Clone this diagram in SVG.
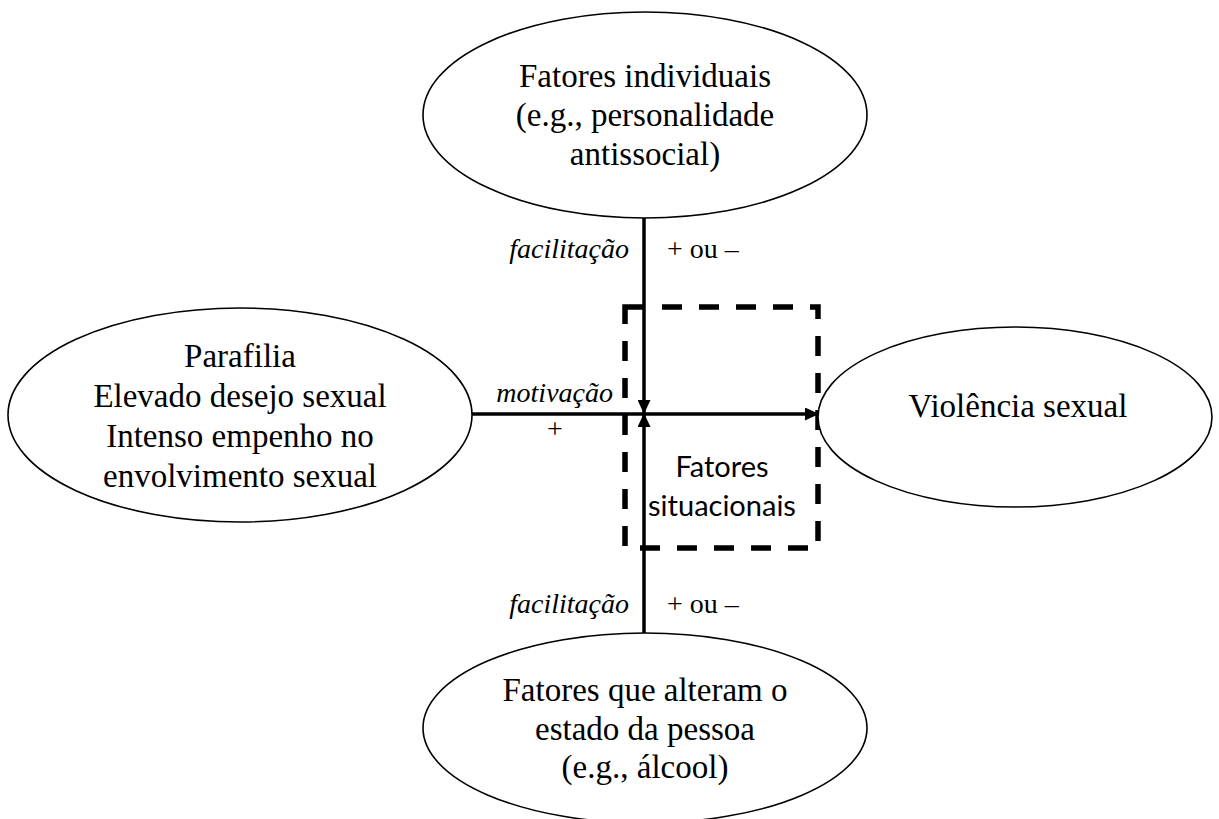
<svg xmlns="http://www.w3.org/2000/svg" width="1219" height="819" viewBox="0 0 1219 819">
<style>
.node ellipse{fill:#fff;stroke:#000;stroke-width:1.6}
.t{font-family:"Liberation Serif","Times New Roman",serif;font-size:33px;fill:#000;text-anchor:middle}
.lbl{font-family:"Liberation Serif","Times New Roman",serif;font-size:28px;fill:#000}
.it{font-style:italic}
.sans{font-family:Lato,"Open Sans","Liberation Sans",sans-serif;font-size:29px;fill:#000;text-anchor:middle}
.conn{stroke:#000;stroke-width:3.5;fill:none}
</style>
<defs>
<marker id="ah" markerWidth="14" markerHeight="13" refX="13" refY="6.5" orient="auto" markerUnits="userSpaceOnUse">
<path d="M0,0 L14,6.5 L0,13 z" fill="#000"/>
</marker>
</defs>
<rect width="1219" height="819" fill="#fff"/>
<g id="situacional">
<rect x="625" y="307" width="193" height="241" fill="none" stroke="#000" stroke-width="5.5" stroke-dasharray="20,17"/>
<text class="sans" x="722" y="477">Fatores</text>
<text class="sans" x="722" y="516">situacionais</text>
</g>
<g id="connectors">
<line class="conn" x1="644" y1="218" x2="644" y2="413" marker-end="url(#ah)"/>
<line class="conn" x1="644" y1="634" x2="644" y2="414" marker-end="url(#ah)"/>
<line class="conn" x1="472" y1="414" x2="818" y2="414" marker-end="url(#ah)"/>
<text class="lbl it" x="629" y="258" text-anchor="end">facilitação</text>
<text class="lbl" x="667" y="258">+ ou –</text>
<text class="lbl it" x="613" y="402" text-anchor="end">motivação</text>
<text class="lbl" x="555" y="438" text-anchor="middle">+</text>
<text class="lbl it" x="629" y="613" text-anchor="end">facilitação</text>
<text class="lbl" x="667" y="613">+ ou –</text>
</g>
<g id="individuais" class="node">
<ellipse cx="645" cy="115" rx="222" ry="103"/>
<text class="t" x="645" y="87">Fatores individuais</text>
<text class="t" x="645" y="126">(e.g., personalidade</text>
<text class="t" x="645" y="165">antissocial)</text>
</g>
<g id="parafilia" class="node">
<ellipse cx="240" cy="415" rx="232" ry="107"/>
<text class="t" x="240" y="367">Parafilia</text>
<text class="t" x="240" y="407">Elevado desejo sexual</text>
<text class="t" x="240" y="447">Intenso empenho no</text>
<text class="t" x="240" y="487">envolvimento sexual</text>
</g>
<g id="violencia" class="node">
<ellipse cx="1015" cy="417" rx="197" ry="90"/>
<text class="t" x="1018" y="417">Violência sexual</text>
</g>
<g id="estado" class="node">
<ellipse cx="645" cy="728" rx="222" ry="95"/>
<text class="t" x="645" y="701">Fatores que alteram o</text>
<text class="t" x="645" y="740">estado da pessoa</text>
<text class="t" x="645" y="778">(e.g., álcool)</text>
</g>
</svg>
